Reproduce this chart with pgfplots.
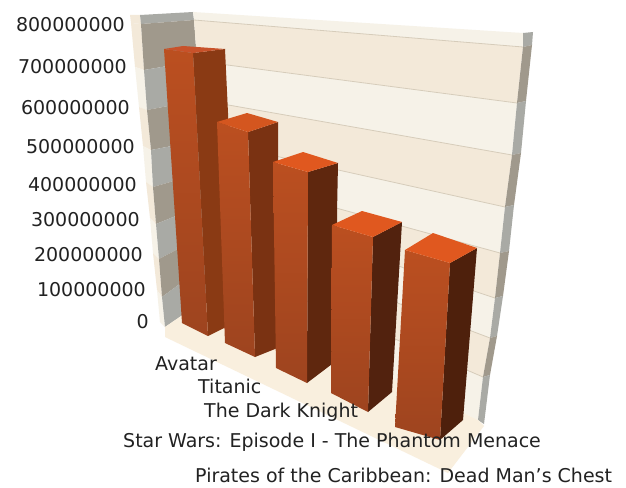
\documentclass[border=0pt]{standalone}
\usepackage{fontspec}
\setmainfont{DejaVu Sans}
\usepackage{pgfplots}
\pgfplotsset{compat=1.18}
\definecolor{wallL}{HTML}{F6F2E8}
\definecolor{wallD}{HTML}{F3E9D9}
\definecolor{wline}{HTML}{D6CCBA}
\definecolor{floorc}{HTML}{F9EFDE}
\definecolor{greyL}{HTML}{A9AAA5}
\definecolor{greyD}{HTML}{A0998C}
\definecolor{txt}{HTML}{222222}
\definecolor{topA}{HTML}{C8522A}
\definecolor{topB}{HTML}{D4561F}
\definecolor{topC}{HTML}{E0581F}
\definecolor{frontT}{HTML}{BB4F20}
\definecolor{frontB}{HTML}{9E441F}
\definecolor{sideA}{HTML}{8A3A14}
\definecolor{sideB}{HTML}{7A3212}
\definecolor{sideC}{HTML}{5F270E}
\definecolor{sideD}{HTML}{52220E}
\definecolor{sideE}{HTML}{4E200C}
\newcommand{\poly}[2]{\addplot[draw=none,fill=#1] coordinates {#2} --cycle;}
\newcommand{\front}[1]{\addplot[draw=none,top color=frontT,bottom color=frontB] coordinates {#1} --cycle;}
\newcommand{\wline}[1]{\addplot[wline,line width=0.8pt] coordinates {#1};}
\tikzset{lbl/.style={font=\fontsize{19}{19}\selectfont,text=txt,inner sep=0pt}}
\begin{document}
\begin{tikzpicture}
\begin{axis}[
    scale only axis,
    width=626pt,
    height=487pt,
    xmin=0, xmax=626,
    ymin=0, ymax=487,
    y dir=reverse,
    hide axis,
    clip=true
]
% page background, holds the full extent
\poly{white}{(0,0)(626,0)(626,487)(0,487)}
% left edge strip
\poly{wallD}{(130,15)(140,15)(141,24)(131,23)}
\poly{wallD}{(131,23)(141,24)(144,70)(135,67)}
\poly{wallL}{(135,67)(144,70)(147,110)(139,107)}
\poly{wallD}{(139,107)(147,110)(151,150)(143,146)}
\poly{wallL}{(143,146)(151,150)(153,187)(146,182)}
\poly{wallD}{(146,182)(153,187)(156,224)(150,218)}
\poly{wallL}{(150,218)(156,224)(159,259)(153,253)}
\poly{wallD}{(153,253)(159,259)(162,297)(157,290)}
\poly{wallL}{(157,290)(162,297)(165,327)(160,322)}
% left wall, grey
\poly{greyL}{(140,15)(193,12)(194,20)(141,24)}
\poly{greyD}{(141,24)(194,20)(197,61)(144,70)}
\poly{greyL}{(144,70)(197,61)(200,100)(147,110)}
\poly{greyD}{(147,110)(200,100)(203,140)(151,150)}
\poly{greyL}{(151,150)(203,140)(205,172)(153,187)}
\poly{greyD}{(153,187)(205,172)(208,203)(156,224)}
\poly{greyL}{(156,224)(208,203)(210,232)(159,259)}
\poly{greyD}{(159,259)(210,232)(212,260)(162,297)}
\poly{greyL}{(162,297)(212,260)(215,293)(165,327)}
% back wall
\poly{wallL}{(193,12)(523,33)(523,47)(194,20)}
\poly{wallD}{(194,20)(523,47)(517,103)(197,61)}
\poly{wallL}{(197,61)(517,103)(512,155)(200,100)}
\poly{wallD}{(200,100)(512,155)(505,207)(203,140)}
\poly{wallL}{(203,140)(505,207)(500,253)(205,172)}
\poly{wallD}{(205,172)(500,253)(495,298)(208,203)}
\poly{wallL}{(208,203)(495,298)(490,338)(210,232)}
\poly{wallD}{(210,232)(490,338)(483,377)(212,260)}
\poly{wallL}{(212,260)(483,377)(478,420)(215,293)}
\wline{(194,20)(523,47)}
\wline{(197,61)(517,103)}
\wline{(200,100)(512,155)}
\wline{(203,140)(505,207)}
\wline{(205,172)(500,253)}
\wline{(208,203)(495,298)}
\wline{(210,232)(490,338)}
\wline{(212,260)(483,377)}
% right edge strip
\poly{greyL}{(523,33)(533,32)(532,45)(523,47)}
\poly{greyD}{(523,47)(532,45)(526,101)(517,103)}
\poly{greyL}{(517,103)(526,101)(521,153)(512,155)}
\poly{greyD}{(512,155)(521,153)(514,205)(505,207)}
\poly{greyL}{(505,207)(514,205)(509,251)(500,253)}
\poly{greyD}{(500,253)(509,251)(503,296)(495,298)}
\poly{greyL}{(495,298)(503,296)(497,336)(490,338)}
\poly{greyD}{(490,338)(497,336)(490,375)(483,377)}
\poly{greyL}{(483,377)(490,375)(484,424)(478,420)}
% floor
\poly{floorc}{(165,327)(215,293)(478,420)(484,426)(448,473)(165,337)}
% Avatar
\poly{sideA}{(193,53)(225,49)(228,113)(236,322)(208,336)}
\front{(164,49)(193,53)(208,336)(182,323)}
\poly{topA}{(164,49)(183,46)(225,49)(193,53)}
% Titanic
\poly{sideB}{(248,132)(278,122)(278,157)(285,345)(255,357)}
\front{(217,122)(248,132)(255,357)(225,343)}
\poly{topB}{(217,122)(247,113)(278,122)(248,132)}
% The Dark Knight
\poly{sideC}{(308,172)(338,163)(337,213)(340,358)(307,383)}
\front{(273,162)(308,172)(307,383)(276,368)}
\poly{topC}{(273,162)(303,152)(338,163)(308,172)}
% Star Wars
\poly{sideD}{(373,237)(402,222)(392,392)(368,412)}
\front{(332,225)(373,237)(368,412)(331,393)}
\poly{topC}{(332,225)(362,211)(402,222)(373,237)}
% Pirates
\poly{sideE}{(450,263)(477,248)(463,420)(440,440)}
\front{(405,250)(450,263)(440,440)(395,427)}
\poly{topC}{(405,250)(433,233)(477,248)(450,263)}
% value labels
\node[lbl,anchor=east] at (axis cs:125,25) {800000000};
\node[lbl,anchor=east] at (axis cs:127,67) {700000000};
\node[lbl,anchor=east] at (axis cs:130,108) {600000000};
\node[lbl,anchor=east] at (axis cs:135,147) {500000000};
\node[lbl,anchor=east] at (axis cs:137,185) {400000000};
\node[lbl,anchor=east] at (axis cs:140,220) {300000000};
\node[lbl,anchor=east] at (axis cs:143,255) {200000000};
\node[lbl,anchor=east] at (axis cs:146,290) {100000000};
\node[lbl,anchor=east] at (axis cs:149,322) {0};
% category labels
\node[lbl,anchor=west] at (axis cs:155,364) {Avatar};
\node[lbl,anchor=west] at (axis cs:198,386) {Titanic};
\node[lbl,anchor=west] at (axis cs:204,412) {The Dark Knight};
\node[lbl,anchor=west] at (axis cs:123,442) {Star Wars: Episode I - The Phantom Menace};
\node[lbl,anchor=west] at (axis cs:195,475) {Pirates of the Caribbean: Dead Man's Chest};
\end{axis}
\end{tikzpicture}
\end{document}
